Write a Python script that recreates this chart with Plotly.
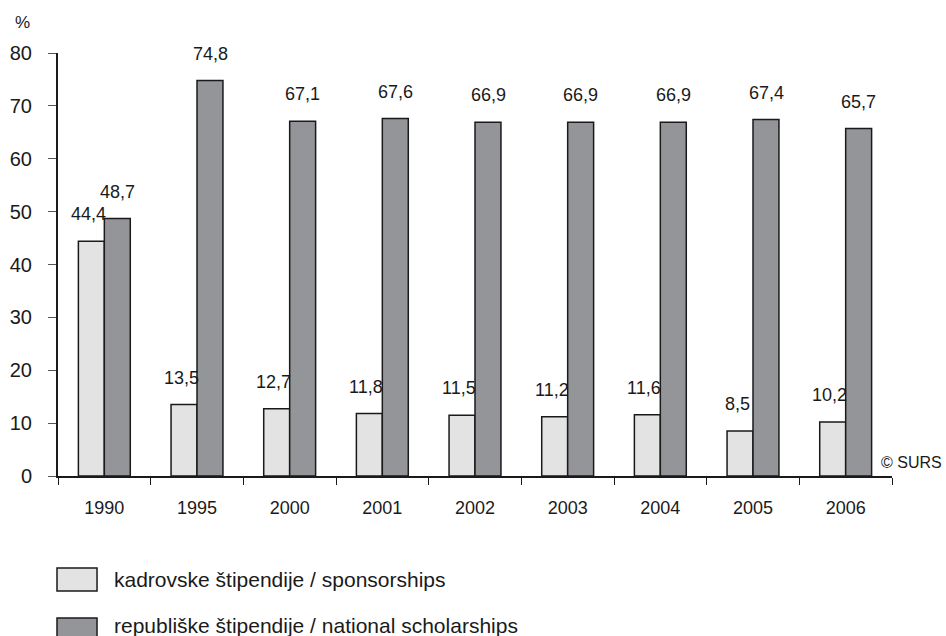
import plotly.graph_objects as go

years = ["1990", "1995", "2000", "2001", "2002", "2003", "2004", "2005", "2006"]
sponsorships = [44.4, 13.5, 12.7, 11.8, 11.5, 11.2, 11.6, 8.5, 10.2]
national = [48.7, 74.8, 67.1, 67.6, 66.9, 66.9, 66.9, 67.4, 65.7]
series_names = ["kadrovske štipendije / sponsorships",
                "republiške štipendije / national scholarships"]
y_ticks = [0, 10, 20, 30, 40, 50, 60, 70, 80]

FONT = "Liberation Sans, Arial, sans-serif"
LIGHT = "#e3e3e3"
DARK = "#939598"

def fmt(v):
    return f"{v:.1f}".replace(".", ",")

fig = go.Figure()
fig.add_trace(go.Bar(x=years, y=sponsorships, name=series_names[0],
                     marker=dict(color=LIGHT, line=dict(color="#1a1a1a", width=1.5)),
                     showlegend=False))
fig.add_trace(go.Bar(x=years, y=national, name=series_names[1],
                     marker=dict(color=DARK, line=dict(color="#1a1a1a", width=1.5)),
                     showlegend=False))

annotations = []
for i, v in enumerate(sponsorships):
    annotations.append(dict(x=i, y=v, xref="x", yref="y", text=fmt(v), showarrow=False,
                            xshift=-16, yshift=27, yanchor="middle",
                            font=dict(family=FONT, size=18, color="#1a1a1a")))
for i, v in enumerate(national):
    annotations.append(dict(x=i, y=v, xref="x", yref="y", text=fmt(v), showarrow=False,
                            xshift=13, yshift=27, yanchor="middle",
                            font=dict(family=FONT, size=18, color="#1a1a1a")))

# axis unit and source
annotations.append(dict(x=-0.043, y=1.073, xref="paper", yref="paper", text="%",
                        showarrow=False, xanchor="center", yanchor="middle",
                        font=dict(family=FONT, size=17, color="#1a1a1a")))
annotations.append(dict(x=1.0624, y=0.031, xref="paper", yref="paper", text="© SURS",
                        showarrow=False, xanchor="right", yanchor="middle",
                        font=dict(family=FONT, size=16, color="#1a1a1a")))

# custom legend
shapes = []
legend_rows = [(-0.2175, -0.2719, LIGHT, -0.2435), (-0.3357, -0.3901, DARK, -0.3546)]
for (top, bot, col, ty), name in zip(legend_rows, series_names):
    shapes.append(dict(type="rect", xref="paper", yref="paper", x0=-0.0012, x1=0.0468,
                       y0=bot, y1=top, fillcolor=col, line=dict(color="#1a1a1a", width=1.5)))
    annotations.append(dict(x=0.0647, y=ty, xref="paper", yref="paper", text=name,
                            showarrow=False, xanchor="left", yanchor="middle",
                            font=dict(family=FONT, size=21, color="#1a1a1a")))

fig.update_layout(
    width=946, height=636,
    margin=dict(l=58, r=54, t=53, b=160, autoexpand=False),
    paper_bgcolor="white", plot_bgcolor="white",
    barmode="group", bargap=0.44, bargroupgap=0.0,
    font=dict(family=FONT, color="#1a1a1a"),
    annotations=annotations, shapes=shapes,
    showlegend=False,
)
fig.update_xaxes(type="category", range=[-0.5, len(years) - 0.5], autorange=False,
                 showline=True, linecolor="#1a1a1a", linewidth=2,
                 ticks="outside", tickson="boundaries", ticklen=7, tickcolor="#1a1a1a",
                 tickwidth=1, showgrid=False, zeroline=False, tickangle=0,
                 tickfont=dict(family=FONT, size=18, color="#1a1a1a"),
                 ticklabelstandoff=14, automargin=False)
fig.update_yaxes(range=[0, 80], tickvals=y_ticks, showline=True, linecolor="#1a1a1a",
                 linewidth=2, ticks="outside", ticklen=8, tickcolor="#555555", tickwidth=1,
                 showgrid=False, zeroline=False, automargin=False,
                 tickfont=dict(family=FONT, size=20, color="#1a1a1a"),
                 ticklabelstandoff=12)

fig.write_html("out.html", config={"displayModeBar": False},
               post_script="document.body.style.margin='0px';document.body.style.overflow='hidden';")
